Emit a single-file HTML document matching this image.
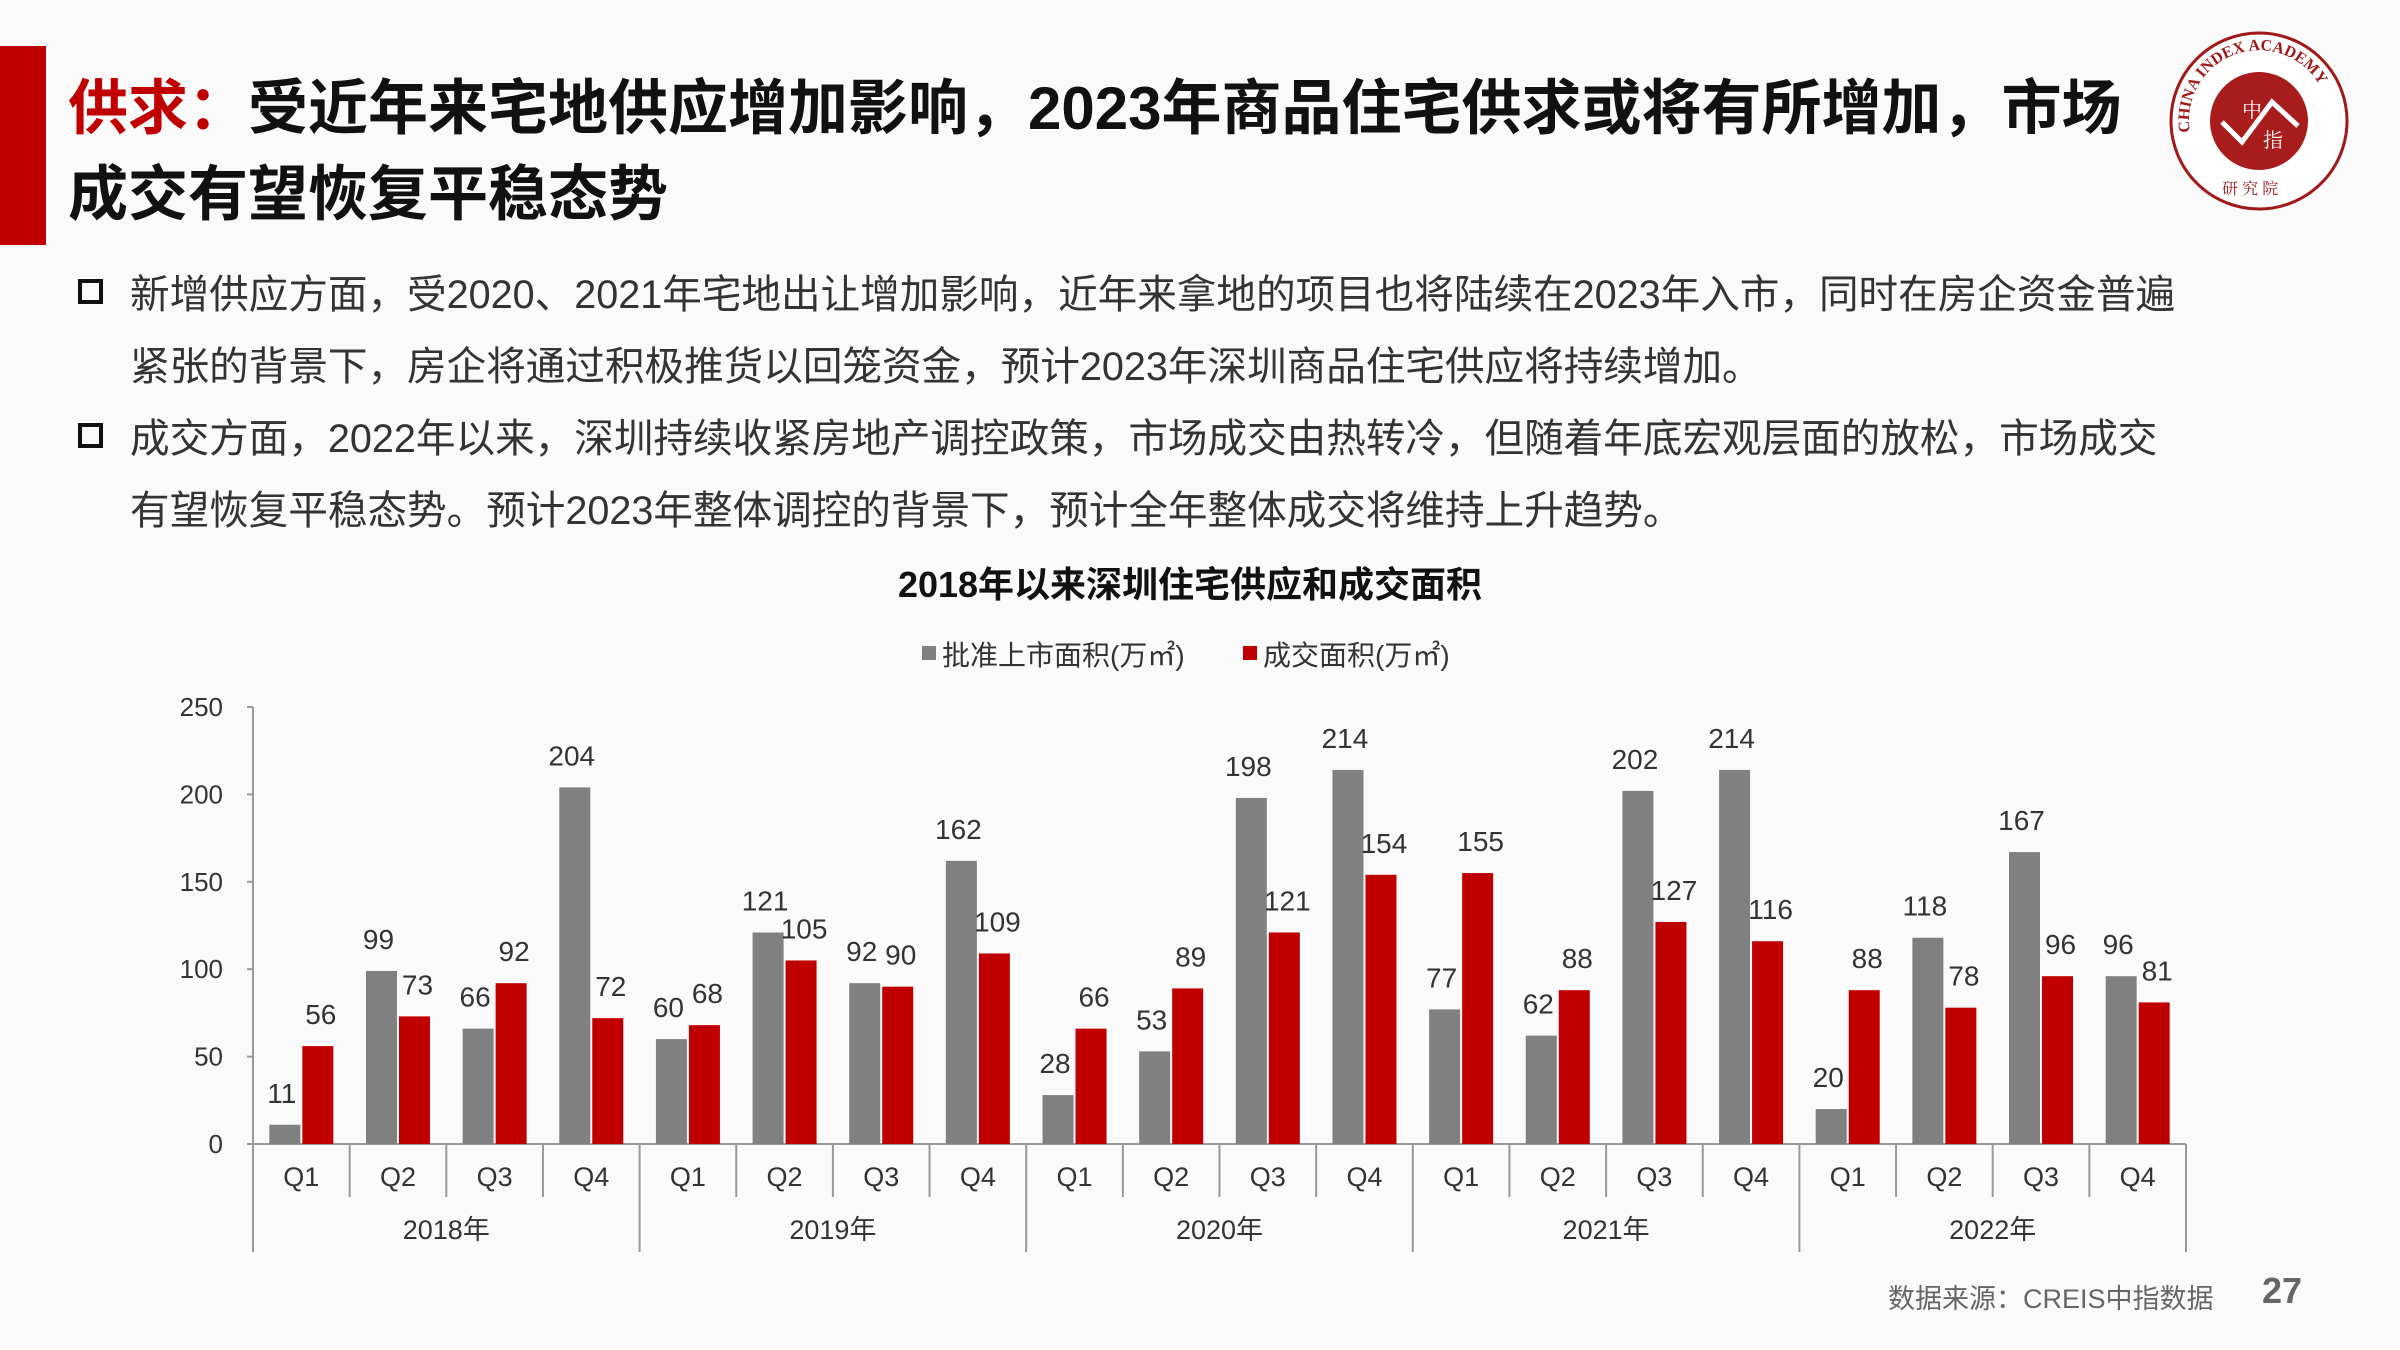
<!DOCTYPE html>
<html><head><meta charset="utf-8">
<style>
html,body{margin:0;padding:0}
body{width:2400px;height:1350px;background:#fafafa;position:relative;overflow:hidden;font-family:"Liberation Sans","Noto Sans CJK SC",sans-serif;color:#222}
.abs{position:absolute}
.title{left:68px;font-size:60px;font-weight:bold;color:#111;white-space:nowrap;line-height:1}
.bul{left:130px;font-size:39.6px;color:#333;white-space:nowrap;line-height:1}
.sq{left:78px;width:17px;height:17px;border:4px solid #111}
</style></head><body>
<div class="abs" style="left:0;top:46px;width:46px;height:199px;background:#c00000"></div>
<div class="abs title" style="top:79px"><span style="color:#c00000">供求：</span>受近年来宅地供应增加影响，2023年商品住宅供求或将有所增加，市场</div>
<div class="abs title" style="top:165px">成交有望恢复平稳态势</div>
<svg class="abs" style="left:2160px;top:22px" width="200" height="200" viewBox="0 0 200 200">
<circle cx="99" cy="99" r="88" fill="#fff" stroke="#a01818" stroke-width="3"/>
<circle cx="99" cy="99" r="49" fill="#a81c1c"/>
<polyline points="62,100 82,120 112,80 138,104" fill="none" stroke="#fff" stroke-width="5"/>
<text x="82" y="95" font-size="20" fill="#fff" font-family="Noto Serif CJK SC,serif">中</text>
<text x="103" y="125" font-size="20" fill="#fff" font-family="Noto Serif CJK SC,serif">指</text>
<path id="arc" d="M30,110 A70,70 0 1 1 168,110" fill="none"/>
<text font-size="16" fill="#a01818" font-family="Liberation Serif,serif" font-weight="bold"><textPath href="#arc">CHINA INDEX ACADEMY</textPath></text>
<text x="62" y="172" font-size="16" fill="#a01818" font-family="Noto Serif CJK SC,serif">研 究 院</text>
</svg>
<div class="abs sq" style="top:279px"></div>
<div class="abs bul" style="top:276px">新增供应方面，受2020、2021年宅地出让增加影响，近年来拿地的项目也将陆续在2023年入市，同时在房企资金普遍</div>
<div class="abs bul" style="top:348px">紧张的背景下，房企将通过积极推货以回笼资金，预计2023年深圳商品住宅供应将持续增加。</div>
<div class="abs sq" style="top:423px"></div>
<div class="abs bul" style="top:420px">成交方面，2022年以来，深圳持续收紧房地产调控政策，市场成交由热转冷，但随着年底宏观层面的放松，市场成交</div>
<div class="abs bul" style="top:492px">有望恢复平稳态势。预计2023年整体调控的背景下，预计全年整体成交将维持上升趋势。</div>

<svg class="abs" id="chart" style="left:0;top:0" width="2400" height="1350"></svg>

<div class="abs" style="left:1888px;top:1277px;font-size:27px;color:#666;white-space:nowrap">数据来源：CREIS中指数据</div>
<div class="abs" style="left:2262px;top:1270px;font-size:36px;font-weight:bold;color:#666">27</div>

<script>
const quarters=["Q1","Q2","Q3","Q4"];
const years=["2018年","2019年","2020年","2021年","2022年"];
const supply=[11,99,66,204,60,121,92,162,28,53,198,214,77,62,202,214,20,118,167,96];
const deals=[56,73,92,72,68,105,90,109,66,89,121,154,155,88,127,116,88,78,96,81];
const yTicks=[0,50,100,150,200,250];

const svg=document.getElementById('chart');
const NS='http://www.w3.org/2000/svg';
const X0=253,X1=2186,Y0=1144,Y1=707,YMAX=250;
const n=supply.length, cw=(X1-X0)/n;
const y=v=>Y0-(v/YMAX)*(Y0-Y1);
const xc=i=>X0+cw*(i+0.5);
function mk(tag,attrs,text){const e=document.createElementNS(NS,tag);for(const k in attrs)e.setAttribute(k,attrs[k]);if(text!==undefined)e.textContent=text;svg.appendChild(e);return e;}
const F='Liberation Sans, Noto Sans CJK SC, sans-serif';

let t=mk('text',{x:1190,y:597,'text-anchor':'middle','font-size':36,'font-weight':'bold',fill:'#111','font-family':F},'2018年以来深圳住宅供应和成交面积');


let r=mk('rect',{x:922,y:646,width:14,height:14,fill:'#808080'});


t=mk('text',{x:942,y:665,'font-size':28,fill:'#333','font-family':F},'批准上市面积(万㎡)');


r=mk('rect',{x:1243,y:646,width:14,height:14,fill:'#c00000'});


t=mk('text',{x:1263,y:665,'font-size':28,fill:'#333','font-family':F},'成交面积(万㎡)');



let l=mk('line',{x1:X0,y1:Y1,x2:X0,y2:1252,stroke:'#999','stroke-width':2});


yTicks.forEach(v=>{
  const tl=mk('line',{x1:X0-6,y1:y(v),x2:X0,y2:y(v),stroke:'#999','stroke-width':2});
  
  
  const tx=mk('text',{x:223,y:y(v)+9,'text-anchor':'end','font-size':26,fill:'#333','font-family':F},v);
  
  
});
l=mk('line',{x1:X0,y1:Y0,x2:X1,y2:Y0,stroke:'#999','stroke-width':2});



const bw=31;
for(let i=0;i<n;i++){
  const cx=xc(i);
  const b1=mk('rect',{x:cx-bw-1,y:y(supply[i]),width:bw,height:Y0-y(supply[i]),fill:'#808080'});
  
  
  const b2=mk('rect',{x:cx+1,y:y(deals[i]),width:bw,height:Y0-y(deals[i]),fill:'#c00000'});
  
  
  const l1=mk('text',{x:cx-bw/2-4,y:y(supply[i])-22,'text-anchor':'middle','font-size':28,fill:'#333','font-family':F},supply[i]);
  
  
  const l2=mk('text',{x:cx+bw/2+4,y:y(deals[i])-22,'text-anchor':'middle','font-size':28,fill:'#333','font-family':F},deals[i]);
  
  
  const q=mk('text',{x:cx,y:1186,'text-anchor':'middle','font-size':27,fill:'#333','font-family':F},quarters[i%4]);
  
  
  if(i>0){
    const big=i%4===0;
    const s=mk('line',{x1:X0+cw*i,y1:Y0,x2:X0+cw*i,y2:big?1252:1197,stroke:'#999','stroke-width':2});
    
    
  }
}
years.forEach((yr,k)=>{
  const yt=mk('text',{x:X0+cw*(4*k+2),y:1239,'text-anchor':'middle','font-size':27,fill:'#333','font-family':F},yr);
  
  
});
l=mk('line',{x1:X1,y1:Y0,x2:X1,y2:1252,stroke:'#999','stroke-width':2});


</script>
</body></html>
